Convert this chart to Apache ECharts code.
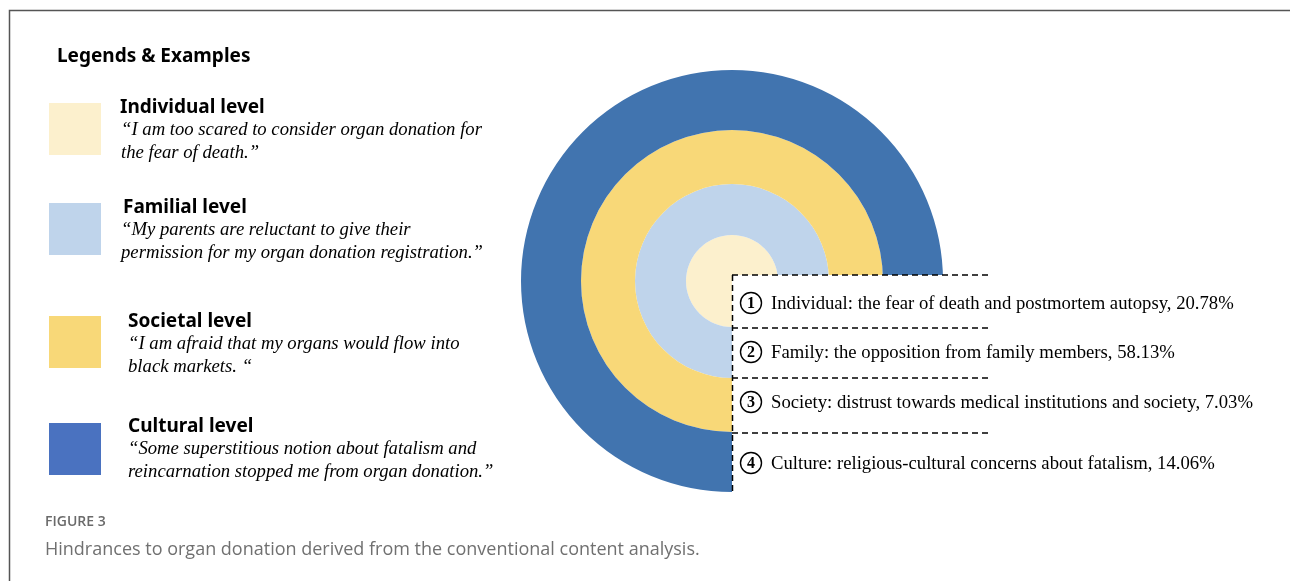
<!DOCTYPE html>
<html>
<head>
<meta charset="utf-8">
<script src="https://cdn.jsdelivr.net/npm/echarts@6/dist/echarts.min.js"></script>
<style>
html,body{margin:0;padding:0;background:#fff;}
#chart{width:1290px;height:581px;}
</style>
</head>
<body>
<div id="chart"></div>
<script>
// ---- data ----
const levels = ['Individual level', 'Familial level', 'Societal level', 'Cultural level'];
const quoteLines = [
  ['\u201cI am too scared to consider organ donation for', 'the fear of death.\u201d'],
  ['\u201cMy parents are reluctant to give their', 'permission for my organ donation registration.\u201d'],
  ['\u201cI am afraid that my organs would flow into', 'black markets. \u201c'],
  ['\u201cSome superstitious notion about fatalism and', 'reincarnation stopped me from organ donation.\u201d']
];
const findings = [
  'Individual: the fear of death and postmortem autopsy',
  'Family: the opposition from family members',
  'Society: distrust towards medical institutions and society',
  'Culture: religious-cultural concerns about fatalism'
];
const shares = [20.78, 58.13, 7.03, 14.06];
const arcCovered = 270;   // degrees of each ring that are drawn
const arcOpen = 90;       // degrees left open (bottom-right quadrant)
const figureLabel = 'FIGURE 3';
const caption = 'Hindrances to organ donation derived from the conventional content analysis.';
const legendTitle = 'Legends & Examples';

// ---- styles / layout ----
const ringColors = ['#FCF0CD', '#BFD4EB', '#F8D878', '#4174AF'];
const legendColors = ['#FCF0CD', '#BFD4EB', '#F8D878', '#4A72C0'];
const ringRadii = [[0, 46], [46, 97], [97, 151], [151, 211]];
const center = [732, 281];

const legendBoxY = [103, 203, 316, 423];
const legendTitleX = [120, 123, 128, 128];
const legendTitleY = [107.5, 207.5, 321.5, 426.5];
const quoteX = [121, 121, 128, 128];

const listY = [304, 353, 403, 464];
const dashY = [275, 328, 378, 433];

const chart = echarts.init(document.getElementById('chart'), null, {renderer: 'canvas'});

const series = levels.map((lv, i) => ({
  type: 'pie',
  name: lv,
  silent: true,
  center: center,
  radius: ringRadii[i],
  startAngle: 0,
  clockwise: true,
  label: {show: false},
  labelLine: {show: false},
  emphasis: {disabled: true},
  animation: false,
  data: [
    {name: 'open', value: arcOpen, itemStyle: {color: 'rgba(0,0,0,0)'}},
    {name: lv, value: arcCovered, itemStyle: {color: ringColors[i]}}
  ]
}));

const graphic = [];
// frame
graphic.push({type: 'polyline', silent: true, shape: {points: [[9.5, 581], [9.5, 10.5], [1290, 10.5]]},
  style: {stroke: '#555', lineWidth: 1.5, fill: null}});
// white cover for the list box
graphic.push({type: 'rect', silent: true, shape: {x: 732, y: 275, width: 290, height: 230}, style: {fill: '#fff'}, z: 10});
// legend title
graphic.push({type: 'text', silent: true, z: 20, style: {text: legendTitle, x: 57, y: 57,
  font: 'bold 19px "Noto Sans"', fill: '#000', verticalAlign: 'middle'}});
levels.forEach((lv, i) => {
  graphic.push({type: 'rect', silent: true, z: 20, shape: {x: 49, y: legendBoxY[i], width: 52, height: 52},
    style: {fill: legendColors[i]}});
  graphic.push({type: 'text', silent: true, z: 20, style: {text: lv, x: legendTitleX[i], y: legendTitleY[i],
    font: 'bold 19px "Noto Sans"', fill: '#000', verticalAlign: 'middle'}});
  quoteLines[i].forEach((ln, j) => {
    graphic.push({type: 'text', silent: true, z: 20, style: {text: ln, x: quoteX[i], y: legendTitleY[i] + 23 + 23 * j,
      font: 'italic 18.7px "Liberation Serif"', fill: '#000', verticalAlign: 'middle'}});
  });
  // list
  graphic.push({type: 'circle', silent: true, z: 20, shape: {cx: 751, cy: listY[i] - 1, r: 10.5},
    style: {fill: null, stroke: '#000', lineWidth: 1.4}});
  graphic.push({type: 'text', silent: true, z: 21, style: {text: String(i + 1), x: 751, y: listY[i],
    font: 'bold 16px "Liberation Serif"', fill: '#000', align: 'center', verticalAlign: 'middle'}});
  graphic.push({type: 'text', silent: true, z: 20, style: {text: findings[i] + ', ' + shares[i].toFixed(2) + '%',
    x: 771, y: listY[i], font: '18.7px "Liberation Serif"', fill: '#000', verticalAlign: 'middle'}});
  graphic.push({type: 'line', silent: true, z: 20, shape: {x1: 732, y1: dashY[i], x2: 990, y2: dashY[i]},
    style: {stroke: '#000', lineWidth: 1.5, lineDash: [6, 4]}});
});
graphic.push({type: 'line', silent: true, z: 20, shape: {x1: 732.5, y1: 275, x2: 732.5, y2: 492},
  style: {stroke: '#000', lineWidth: 1.5, lineDash: [6, 4]}});
// caption
graphic.push({type: 'text', silent: true, z: 20, style: {text: figureLabel, x: 45, y: 522,
  font: '600 14px "Open Sans"', fill: '#6a6a6a', verticalAlign: 'middle'}});
graphic.push({type: 'text', silent: true, z: 20, style: {text: caption, x: 45, y: 550,
  font: '18px "Open Sans"', fill: '#707070', verticalAlign: 'middle'}});

chart.setOption({
  backgroundColor: '#fff',
  animation: false,
  series: series,
  graphic: graphic
});
</script>
</body>
</html>
